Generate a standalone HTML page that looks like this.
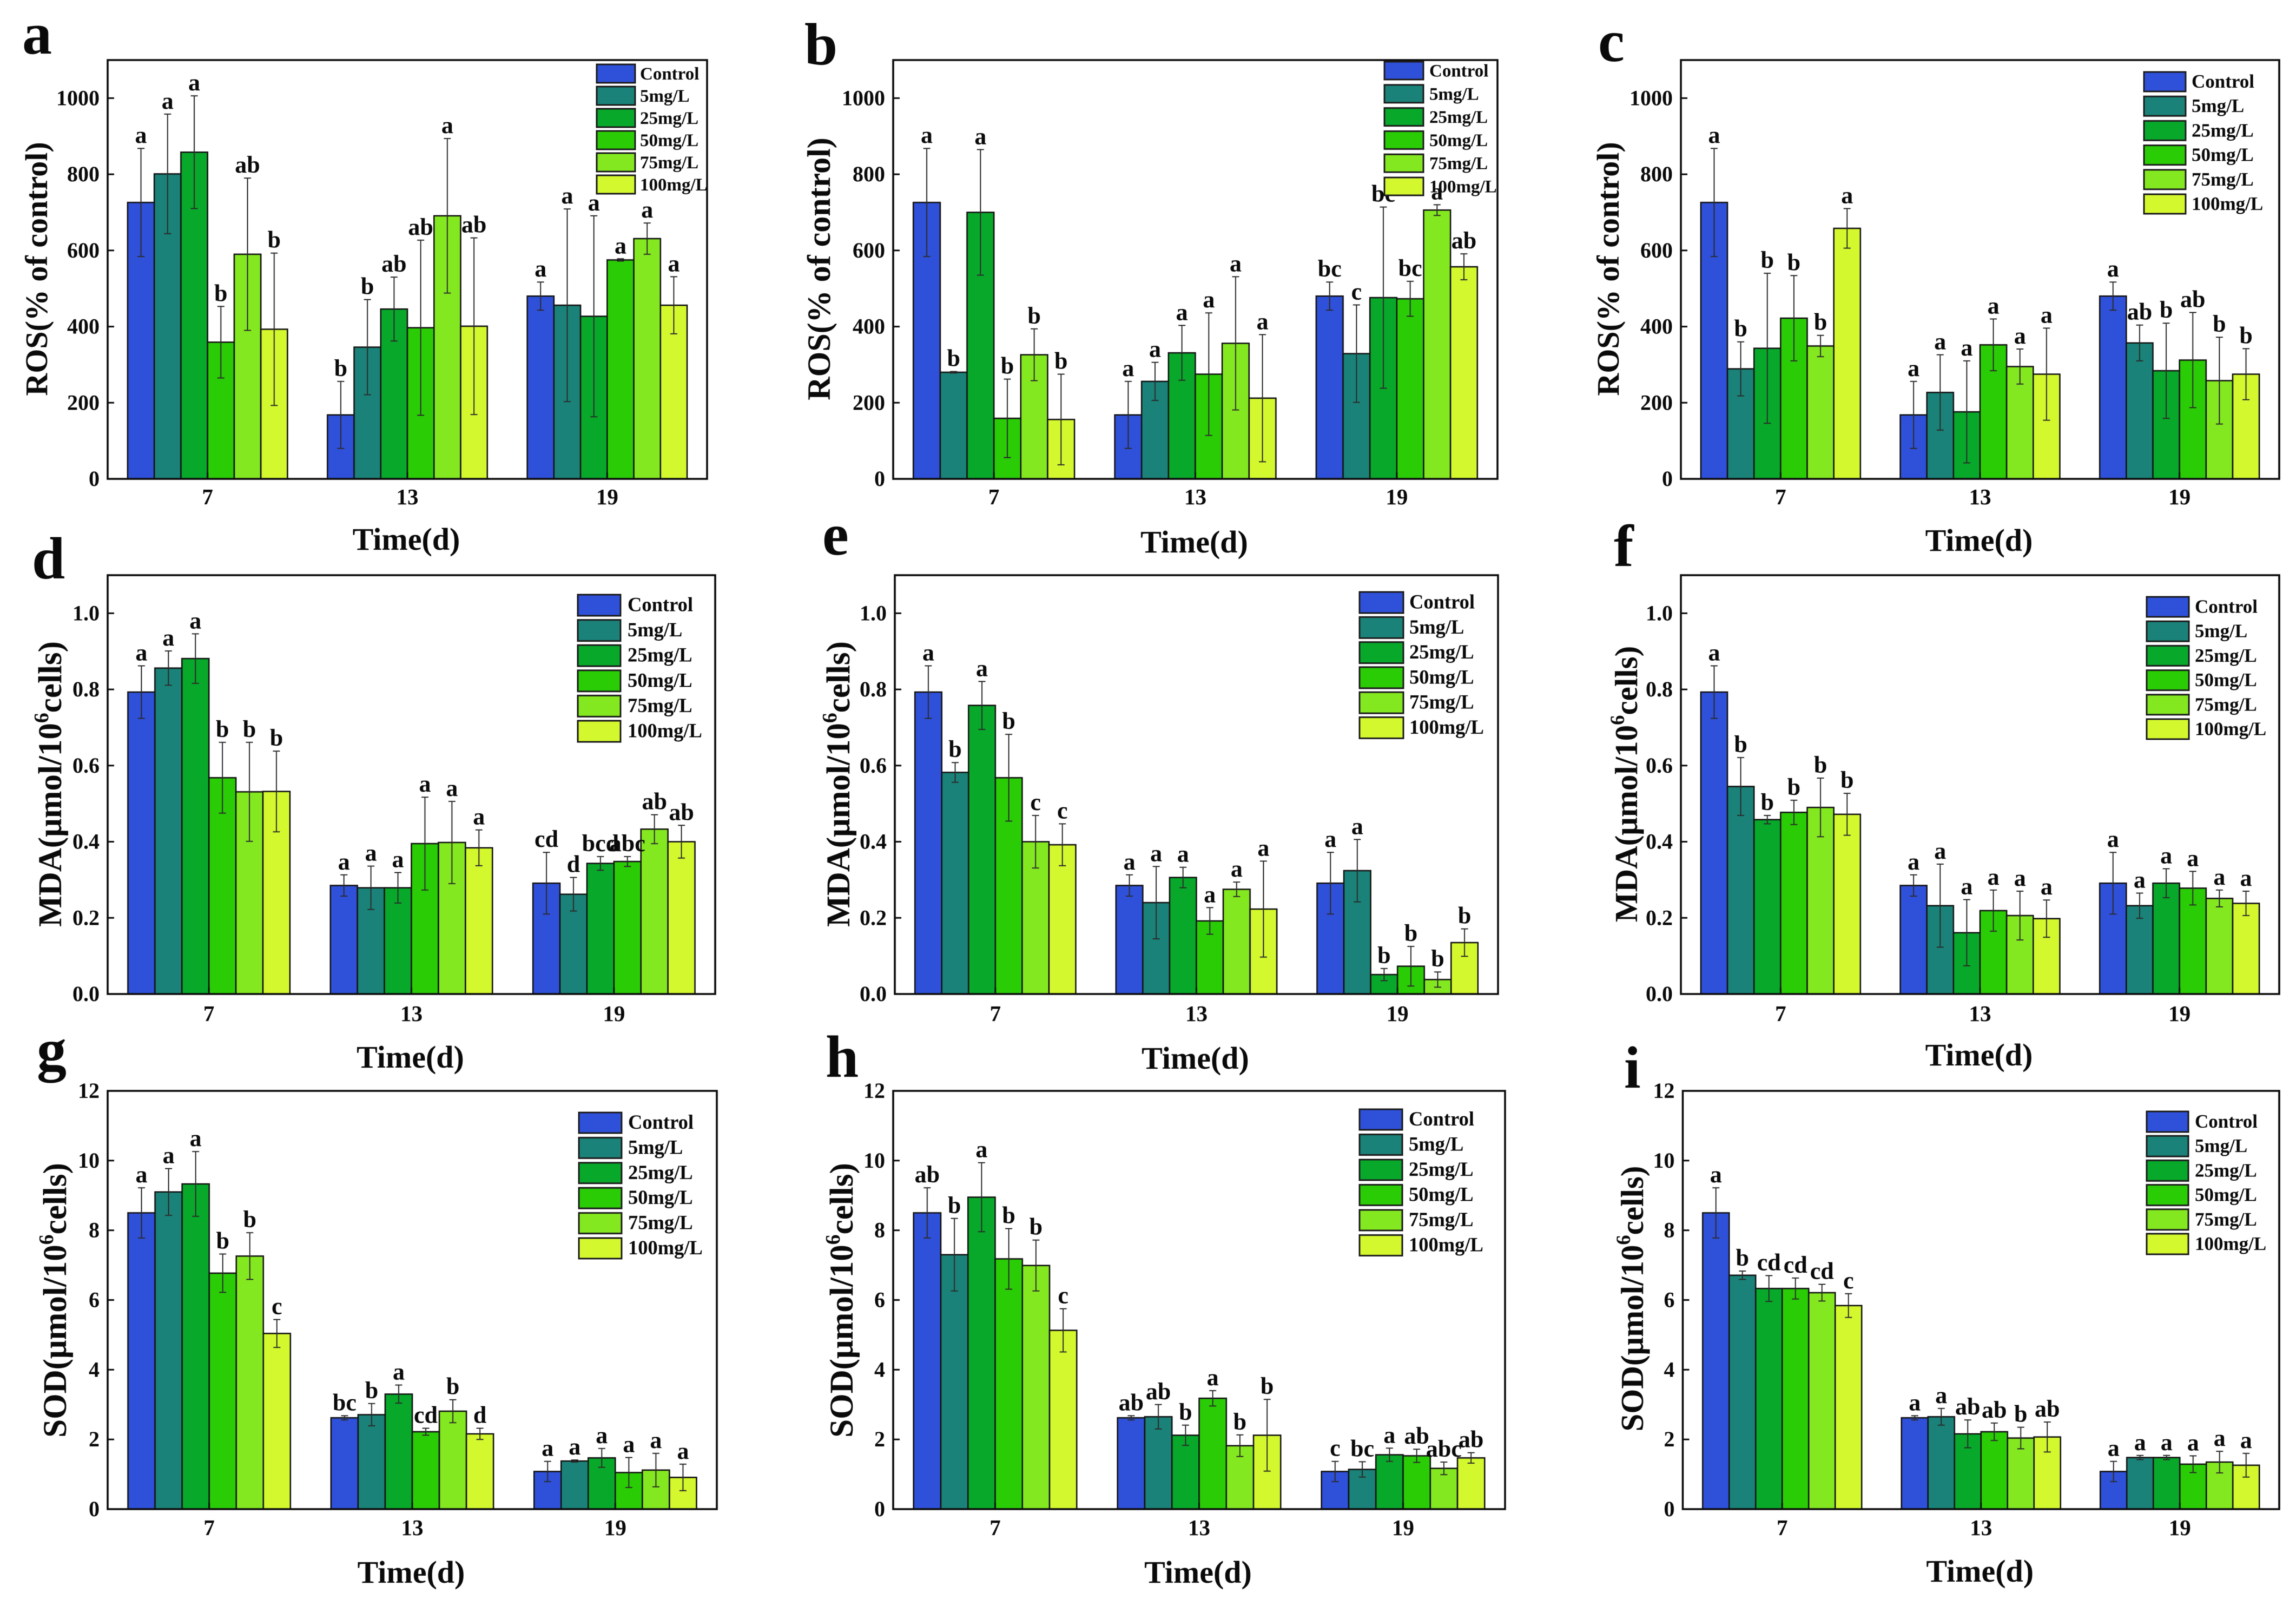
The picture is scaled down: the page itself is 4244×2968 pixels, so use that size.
<!DOCTYPE html>
<html lang="en">
<head>
<meta charset="utf-8">
<title>ROS, MDA and SOD over time</title>
<style>
html,body{margin:0;padding:0;background:#fff;width:4244px;height:2968px;overflow:hidden}
svg{display:block;font-family:"Liberation Serif","Times New Roman",serif;font-weight:bold;fill:#0a0a0a;filter:blur(0.8px)}
</style>
</head>
<body>
<svg id="figure" xmlns="http://www.w3.org/2000/svg" width="4244" height="2968" viewBox="0 0 4244 2968"></svg>
<script>
const categories = ['7', '13', '19'];
const seriesNames = ['Control', '5mg/L', '25mg/L', '50mg/L', '75mg/L', '100mg/L'];
const seriesColors = ['#2f50d8', '#1a8278', '#08a82a', '#2acc06', '#84e820', '#d4f82e'];
const rosTicks = [0, 200, 400, 600, 800, 1000];
const mdaTicks = ['0.0', '0.2', '0.4', '0.6', '0.8', '1.0'];
const sodTicks = [0, 2, 4, 6, 8, 10, 12];

const aMeans = [[726, 801, 858, 359, 590, 393], [168, 346, 446, 397, 691, 401], [480, 456, 427, 575, 631, 456]];
const aErrors = [[142, 157, 148, 94, 200, 200], [88, 125, 84, 230, 203, 232], [37, 253, 264, 3, 41, 75]];
const aLetters = [['a', 'a', 'a', 'b', 'ab', 'b'], ['b', 'b', 'ab', 'ab', 'a', 'ab'], ['a', 'a', 'a', 'a', 'a', 'a']];

const bMeans = [[726, 280, 700, 159, 326, 156], [168, 256, 331, 275, 356, 212], [480, 329, 476, 473, 706, 557]];
const bErrors = [[142, 2, 165, 103, 68, 119], [88, 50, 72, 161, 175, 167], [37, 128, 238, 46, 14, 34]];
const bLetters = [['a', 'b', 'a', 'b', 'b', 'b'], ['a', 'a', 'a', 'a', 'a', 'a'], ['bc', 'c', 'bc', 'bc', 'a', 'ab']];

const cMeans = [[726, 289, 343, 422, 349, 658], [168, 227, 176, 352, 295, 275], [480, 357, 284, 312, 258, 275]];
const cErrors = [[142, 71, 197, 112, 28, 52], [88, 99, 134, 68, 46, 121], [37, 47, 125, 125, 114, 67]];
const cLetters = [['a', 'b', 'b', 'b', 'b', 'a'], ['a', 'a', 'a', 'a', 'a', 'a'], ['a', 'ab', 'b', 'ab', 'b', 'b']];

const dMeans = [[0.793, 0.856, 0.881, 0.568, 0.531, 0.532], [0.285, 0.279, 0.279, 0.395, 0.398, 0.384], [0.291, 0.262, 0.343, 0.348, 0.433, 0.400]];
const dErrors = [[0.069, 0.045, 0.065, 0.093, 0.130, 0.106], [0.028, 0.057, 0.040, 0.122, 0.108, 0.047], [0.081, 0.044, 0.018, 0.013, 0.038, 0.043]];
const dLetters = [['a', 'a', 'a', 'b', 'b', 'b'], ['a', 'a', 'a', 'a', 'a', 'a'], ['cd', 'd', 'bcd', 'abc', 'ab', 'ab']];

const eMeans = [[0.793, 0.582, 0.758, 0.568, 0.400, 0.392], [0.285, 0.240, 0.306, 0.192, 0.275, 0.223], [0.291, 0.324, 0.051, 0.073, 0.038, 0.135]];
const eErrors = [[0.069, 0.026, 0.063, 0.114, 0.069, 0.055], [0.028, 0.095, 0.027, 0.035, 0.019, 0.126], [0.081, 0.082, 0.016, 0.052, 0.020, 0.036]];
const eLetters = [['a', 'b', 'a', 'b', 'c', 'c'], ['a', 'a', 'a', 'a', 'a', 'a'], ['a', 'a', 'b', 'b', 'b', 'b']];

const fMeans = [[0.793, 0.545, 0.458, 0.477, 0.490, 0.472], [0.285, 0.232, 0.161, 0.219, 0.206, 0.198], [0.291, 0.232, 0.291, 0.278, 0.251, 0.238]];
const fErrors = [[0.069, 0.076, 0.011, 0.032, 0.077, 0.055], [0.028, 0.109, 0.087, 0.054, 0.064, 0.049], [0.081, 0.033, 0.038, 0.044, 0.022, 0.032]];
const fLetters = [['a', 'b', 'b', 'b', 'b', 'b'], ['a', 'a', 'a', 'a', 'a', 'a'], ['a', 'a', 'a', 'a', 'a', 'a']];

const gMeans = [[8.50, 9.10, 9.33, 6.77, 7.26, 5.04], [2.62, 2.71, 3.30, 2.22, 2.81, 2.16], [1.08, 1.38, 1.47, 1.05, 1.12, 0.91]];
const gErrors = [[0.72, 0.67, 0.93, 0.55, 0.67, 0.40], [0.06, 0.32, 0.26, 0.10, 0.33, 0.16], [0.29, 0.03, 0.27, 0.43, 0.48, 0.38]];
const gLetters = [['a', 'a', 'a', 'b', 'b', 'c'], ['bc', 'b', 'a', 'cd', 'b', 'd'], ['a', 'a', 'a', 'a', 'a', 'a']];

const hMeans = [[8.50, 7.30, 8.95, 7.18, 6.99, 5.13], [2.62, 2.65, 2.12, 3.18, 1.82, 2.12], [1.08, 1.14, 1.56, 1.53, 1.17, 1.47]];
const hErrors = [[0.72, 1.04, 0.99, 0.87, 0.73, 0.62], [0.06, 0.35, 0.29, 0.22, 0.31, 1.03], [0.29, 0.22, 0.19, 0.19, 0.18, 0.15]];
const hLetters = [['ab', 'b', 'a', 'b', 'b', 'c'], ['ab', 'ab', 'b', 'a', 'b', 'b'], ['c', 'bc', 'a', 'ab', 'abc', 'ab']];

const iMeans = [[8.50, 6.71, 6.33, 6.33, 6.21, 5.84], [2.62, 2.65, 2.16, 2.22, 2.04, 2.07], [1.08, 1.48, 1.48, 1.29, 1.35, 1.26]];
const iErrors = [[0.72, 0.12, 0.37, 0.30, 0.24, 0.34], [0.06, 0.24, 0.40, 0.25, 0.31, 0.43], [0.29, 0.06, 0.06, 0.24, 0.31, 0.34]];
const iLetters = [['a', 'b', 'cd', 'cd', 'cd', 'c'], ['a', 'a', 'ab', 'ab', 'b', 'ab'], ['a', 'a', 'a', 'a', 'a', 'a']];

const NS = 'http://www.w3.org/2000/svg';
const figure = document.getElementById('figure');

function make(parent, tag, attrs, text) {
  const node = document.createElementNS(NS, tag);
  for (const k in attrs) node.setAttribute(k, attrs[k]);
  if (text !== undefined) node.textContent = text;
  parent.appendChild(node);
  return node;
}

function drawPanel(p) {
  const yOf = v => p.B - (parseFloat(v) / p.yMax) * (p.B - p.T);
  const catW = (p.R - p.L) / categories.length;
  const centerOf = g => p.L + (g + 0.5) * catW;
  const barW = catW * 0.8 / seriesNames.length;
  const barLeft = (g, s) => centerOf(g) - catW * 0.4 + s * barW;

  const panel = make(figure, 'g', {});
  
  

  const label = make(panel, 'text', { x: p.labelX, y: p.labelY, 'font-size': 110 }, p.key);
  
  

  // bars
  p.means.forEach((group, g) => {
    group.forEach((value, s) => {
      const y = yOf(value);
      const bar = make(panel, 'rect', {
        x: barLeft(g, s), y: y, width: barW, height: p.B - y,
        fill: seriesColors[s], stroke: '#141414', 'stroke-width': 2.6
      });
      
      
    });
  });

  // error bars and significance letters
  p.means.forEach((group, g) => {
    group.forEach((value, s) => {
      const err = p.errors[g][s];
      const cx = barLeft(g, s) + barW / 2;
      const top = yOf(value + err);
      const bottom = yOf(value - err);
      const d = 'M' + cx + ' ' + top + 'V' + bottom +
        'M' + (cx - 6.5) + ' ' + top + 'H' + (cx + 6.5) +
        'M' + (cx - 6.5) + ' ' + bottom + 'H' + (cx + 6.5);
      const whisker = make(panel, 'path', { d: d, fill: 'none', stroke: '#2b2b2b', 'stroke-width': 2 });
      
      
      const letter = make(panel, 'text', { x: cx, y: top - 10, 'font-size': 44, 'text-anchor': 'middle' }, p.letters[g][s]);
      
      
    });
  });

  // frame
  const frame = make(panel, 'rect', { x: p.L, y: p.T, width: p.R - p.L, height: p.B - p.T, fill: 'none', stroke: '#0c0c0c', 'stroke-width': 3.6 });
  
  

  // y axis
  p.ticks.forEach(t => {
    const y = yOf(t);
    const tick = make(panel, 'line', { x1: p.L, x2: p.L + 12, y1: y, y2: y, stroke: '#0c0c0c', 'stroke-width': 3 });
    
    
    const tl = make(panel, 'text', { x: p.L - 15, y: y + 13, 'font-size': 40, 'text-anchor': 'end' }, String(t));
    
    
  });

  // x axis
  categories.forEach((c, g) => {
    const x = centerOf(g);
    const tick = make(panel, 'line', { x1: x, x2: x, y1: p.B, y2: p.B - 12, stroke: '#0c0c0c', 'stroke-width': 3 });
    
    
    const tl = make(panel, 'text', { x: x, y: p.B + p.xTickGap, 'font-size': 41, 'text-anchor': 'middle' }, c);
    
    
  });

  const xTitle = make(panel, 'text', { x: (p.L + p.R) / 2 - 2, y: p.xTitleY, 'font-size': 58, 'text-anchor': 'middle' }, 'Time(d)');
  
  

  const yTitle = make(panel, 'text', {
    transform: 'translate(' + p.yTitleX + ' ' + p.yTitleY + ') rotate(-90)',
    'font-size': p.yTitleSize, 'text-anchor': 'middle'
  });
  
  
  if (p.unitPrefix) {
    make(yTitle, 'tspan', {}, p.unitPrefix);
    make(yTitle, 'tspan', { dy: -24, 'font-size': p.yTitleSize * 0.62 }, '6');
    make(yTitle, 'tspan', { dy: 24 }, 'cells)');
  } else {
    yTitle.textContent = p.yTitle;
  }

  // legend
  const legend = make(panel, 'g', {});
  
  
  seriesNames.forEach((name, s) => {
    const y = p.legY + s * p.legStep;
    const swatch = make(legend, 'rect', {
      x: p.legX, y: y, width: p.legW, height: p.legH,
      fill: seriesColors[s], stroke: '#1c1c1c', 'stroke-width': 3
    });
    
    
    const txt = make(legend, 'text', { x: p.legTextX, y: y + p.legH / 2 + 11, 'font-size': p.legFont }, name);
    
    
  });
}

const panelLayouts = [
  { key: 'a', means: aMeans, errors: aErrors, letters: aLetters, ticks: rosTicks, yMax: 1100, yTitle: 'ROS(% of control)',
    L: 199, R: 1307, T: 111, B: 885, xTickGap: 47, xTitleY: 1016, labelX: 41, labelY: 99,
    yTitleX: 87, yTitleY: 497, yTitleSize: 58,
    legX: 1103, legY: 119, legW: 71, legH: 34, legStep: 41, legTextX: 1183, legFont: 33 },
  { key: 'b', means: bMeans, errors: bErrors, letters: bLetters, ticks: rosTicks, yMax: 1100, yTitle: 'ROS(% of control)',
    L: 1651, R: 2768, T: 111, B: 885, xTickGap: 47, xTitleY: 1021, labelX: 1487, labelY: 119,
    yTitleX: 1534, yTitleY: 497, yTitleSize: 60,
    legX: 2559, legY: 114, legW: 72, legH: 33, legStep: 42.8, legTextX: 2642, legFont: 33 },
  { key: 'c', means: cMeans, errors: cErrors, letters: cLetters, ticks: rosTicks, yMax: 1100, yTitle: 'ROS(% of control)',
    L: 3107, R: 4213, T: 111, B: 885, xTickGap: 47, xTitleY: 1018, labelX: 2954, labelY: 113,
    yTitleX: 2992, yTitleY: 497, yTitleSize: 58,
    legX: 3963, legY: 133, legW: 77, legH: 36, legStep: 45.2, legTextX: 4051, legFont: 35 },
  { key: 'd', means: dMeans, errors: dErrors, letters: dLetters, ticks: mdaTicks, yMax: 1.1, unitPrefix: 'MDA(\u03bcmol/10',
    L: 199, R: 1322, T: 1063, B: 1837, xTickGap: 50, xTitleY: 1973, labelX: 59, labelY: 1069,
    yTitleX: 113, yTitleY: 1449, yTitleSize: 61,
    legX: 1068, legY: 1099, legW: 79, legH: 39, legStep: 46.6, legTextX: 1160, legFont: 36.5 },
  { key: 'e', means: eMeans, errors: eErrors, letters: eLetters, ticks: mdaTicks, yMax: 1.1, unitPrefix: 'MDA(\u03bcmol/10',
    L: 1654, R: 2769, T: 1063, B: 1837, xTickGap: 50, xTitleY: 1975, labelX: 1520, labelY: 1025,
    yTitleX: 1570, yTitleY: 1449, yTitleSize: 61,
    legX: 2513, legY: 1094, legW: 81, legH: 39, legStep: 46.3, legTextX: 2605, legFont: 36.5 },
  { key: 'f', means: fMeans, errors: fErrors, letters: fLetters, ticks: mdaTicks, yMax: 1.1, unitPrefix: 'MDA(\u03bcmol/10',
    L: 3107, R: 4213, T: 1063, B: 1837, xTickGap: 50, xTitleY: 1969, labelX: 2983, labelY: 1046,
    yTitleX: 3026, yTitleY: 1449, yTitleSize: 59,
    legX: 3968, legY: 1103, legW: 78, legH: 37, legStep: 45.2, legTextX: 4057, legFont: 35 },
  { key: 'g', means: gMeans, errors: gErrors, letters: gLetters, ticks: sodTicks, yMax: 12, unitPrefix: 'SOD(\u03bcmol/10',
    L: 199, R: 1325, T: 2016, B: 2789, xTickGap: 48, xTitleY: 2925, labelX: 68, labelY: 1977,
    yTitleX: 122, yTitleY: 2403, yTitleSize: 61,
    legX: 1070, legY: 2056, legW: 79, legH: 38, legStep: 46.4, legTextX: 1161, legFont: 36.5 },
  { key: 'h', means: hMeans, errors: hErrors, letters: hLetters, ticks: sodTicks, yMax: 12, unitPrefix: 'SOD(\u03bcmol/10',
    L: 1651, R: 2782, T: 2016, B: 2789, xTickGap: 48, xTitleY: 2925, labelX: 1526, labelY: 1990,
    yTitleX: 1576, yTitleY: 2403, yTitleSize: 61,
    legX: 2513, legY: 2050, legW: 79, legH: 38, legStep: 46.5, legTextX: 2604, legFont: 36.5 },
  { key: 'i', means: iMeans, errors: iErrors, letters: iLetters, ticks: sodTicks, yMax: 12, unitPrefix: 'SOD(\u03bcmol/10',
    L: 3110.5, R: 4213, T: 2016, B: 2789, xTickGap: 48, xTitleY: 2923, labelX: 3002, labelY: 2010,
    yTitleX: 3037, yTitleY: 2400, yTitleSize: 59,
    legX: 3968, legY: 2054, legW: 77, legH: 38, legStep: 45.2, legTextX: 4057, legFont: 35 }
];

panelLayouts.forEach(drawPanel);
</script>
</body>
</html>
